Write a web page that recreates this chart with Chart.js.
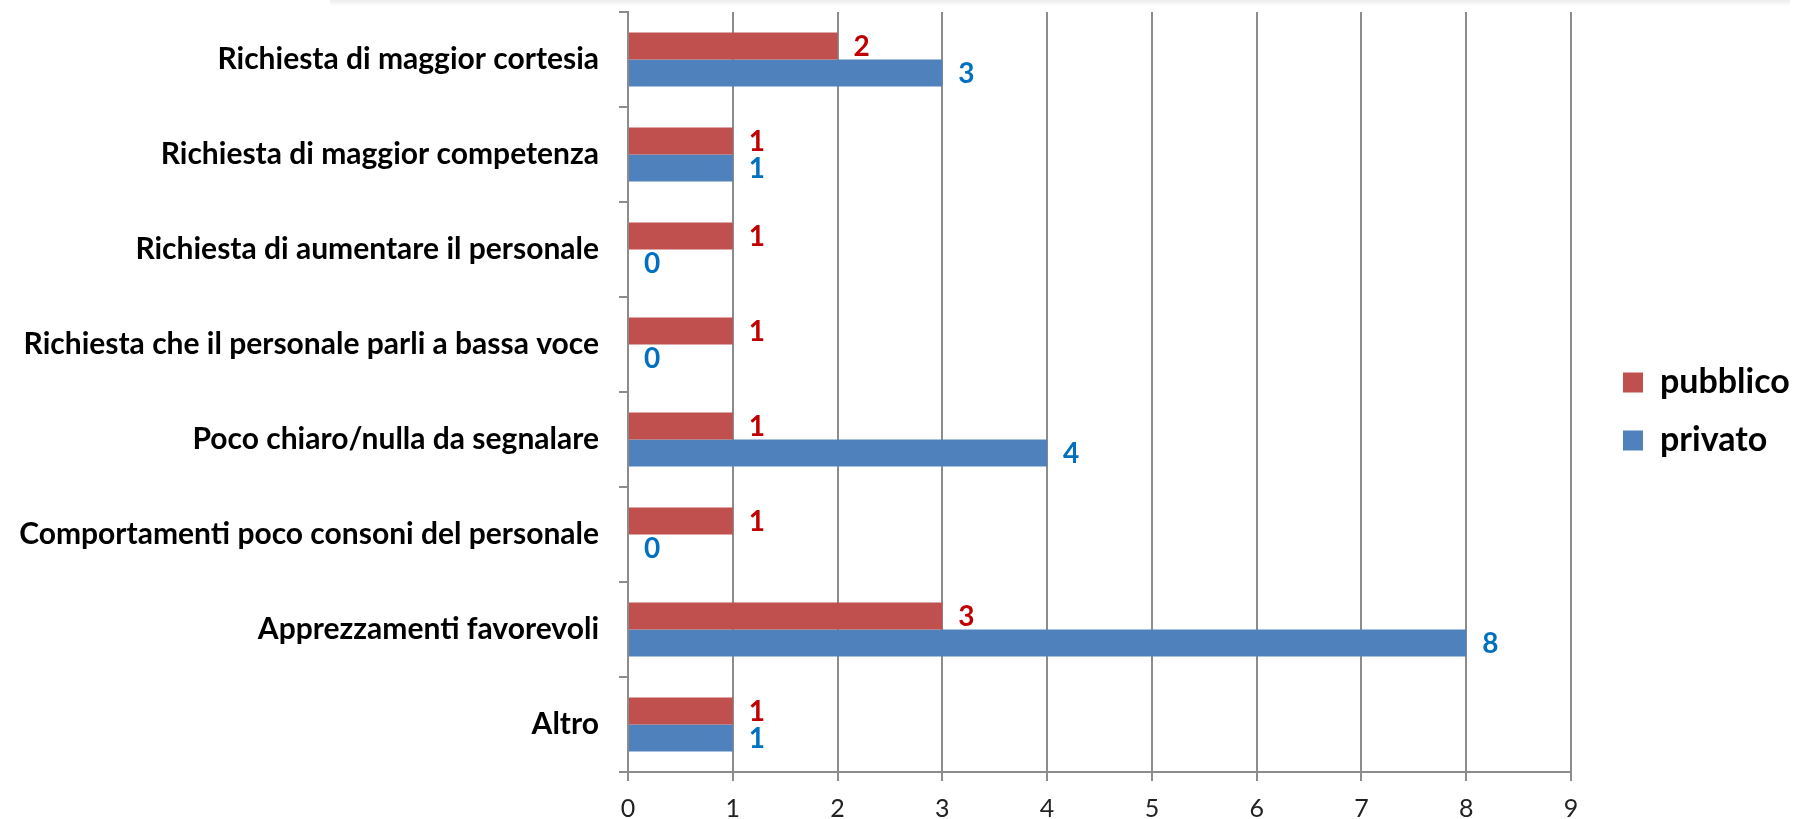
<!DOCTYPE html>
<html>
<head>
<meta charset="utf-8">
<script src="https://cdn.jsdelivr.net/npm/chart.js@4"></script>
<style>
    html, body { margin: 0; padding: 0; background: #fff; }
    #wrap { position: relative; width: 1803px; height: 819px; }
    #shade { position: absolute; left: 330px; top: 0; width: 1460px; height: 6px;
             background: linear-gradient(#ececec, #fff); }
    canvas { position: absolute; left: 0; top: 0; }
</style>
</head>
<body>
<div id="wrap">
    <div id="shade"></div>
    <canvas id="chart" width="1803" height="819"></canvas>
</div>
<script>
// Categories, top to bottom
const categories = [
    "Richiesta di maggior cortesia",
    "Richiesta di maggior competenza",
    "Richiesta di aumentare il personale",
    "Richiesta che il personale parli a bassa voce",
    "Poco chiaro/nulla da segnalare",
    "Comportamenti poco consoni del personale",
    "Apprezzamenti favorevoli",
    "Altro"
];

// Series values
const pubblico = [2, 1, 1, 1, 1, 1, 3, 1];
const privato = [3, 1, 0, 0, 4, 0, 8, 1];

// X axis ticks
const xTicks = [0, 1, 2, 3, 4, 5, 6, 7, 8, 9];

const redColor = '#C0504D';
const blueColor = '#4F81BD';
const labelColors = ['#C00000', '#0070C0'];

// Draws the value next to the end of each bar
const valueLabels = {
    id: 'valueLabels',
    afterDatasetsDraw(chart) {
        const ctx = chart.ctx;
        ctx.save();
        ctx.font = 'bold 28px Lato';
        ctx.textAlign = 'left';
        ctx.textBaseline = 'middle';
        chart.data.datasets.forEach((ds, i) => {
            const meta = chart.getDatasetMeta(i);
            ctx.fillStyle = labelColors[i];
            meta.data.forEach((bar, j) => {
                ctx.fillText(ds.data[j], bar.x + 16, bar.y + 1);
            });
        });
        ctx.restore();
    }
};

// Fixed legend width, and a gap between the plot and the legend
const legendShift = {
    id: 'legendShift',
    beforeLayout(chart) {
        const legend = chart.legend;
        if (legend && !legend._fixedFit) {
            const fit = legend.fit;
            legend.fit = function() {
                fit.call(this);
                this.width = 232;
            };
            legend._fixedFit = true;
        }
    },
    afterLayout(chart) {
        chart.legend.left += 28;
        chart.legend.top -= 4;
        chart.legend.bottom -= 4;
    }
};

new Chart(document.getElementById('chart'), {
    type: 'bar',
    data: {
        labels: categories,
        datasets: [
            { label: 'pubblico', data: pubblico, backgroundColor: redColor, borderWidth: 0 },
            { label: 'privato', data: privato, backgroundColor: blueColor, borderWidth: 0 }
        ]
    },
    options: {
        indexAxis: 'y',
        responsive: false,
        animation: false,
        devicePixelRatio: 1,
        categoryPercentage: 0.57,
        barPercentage: 1,
        layout: { padding: { top: 12, right: 0, left: 0, bottom: 0 } },
        plugins: {
            tooltip: { enabled: false },
            legend: {
                position: 'right',
                labels: {
                    boxWidth: 20,
                    boxHeight: 20,
                    padding: 24,
                    color: '#000',
                    font: { family: 'Lato', weight: 'bold', size: 34 }
                }
            }
        },
        scales: {
            x: {
                min: 0,
                max: 9,
                afterBuildTicks(scale) {
                    scale.ticks = xTicks.map(v => ({ value: v }));
                },
                afterFit(scale) { scale.height = 47; },
                grid: { color: '#8c8c8c', lineWidth: 2, tickLength: 9 },
                border: { color: '#8c8c8c', width: 2 },
                ticks: {
                    color: '#222',
                    padding: 13,
                    font: { family: 'Lato', size: 25 }
                }
            },
            y: {
                afterFit(scale) {
                    scale.width = 628;
                    scale.paddingTop = 0;
                    scale.paddingBottom = 0;
                },
                grid: { offset: true, drawOnChartArea: false, color: '#8c8c8c', lineWidth: 2, tickLength: 9 },
                border: { color: '#8c8c8c', width: 2 },
                ticks: {
                    color: '#000',
                    padding: 20,
                    font: { family: 'Lato', weight: 'bold', size: 30 }
                }
            }
        }
    },
    plugins: [valueLabels, legendShift]
});
</script>
</body>
</html>
